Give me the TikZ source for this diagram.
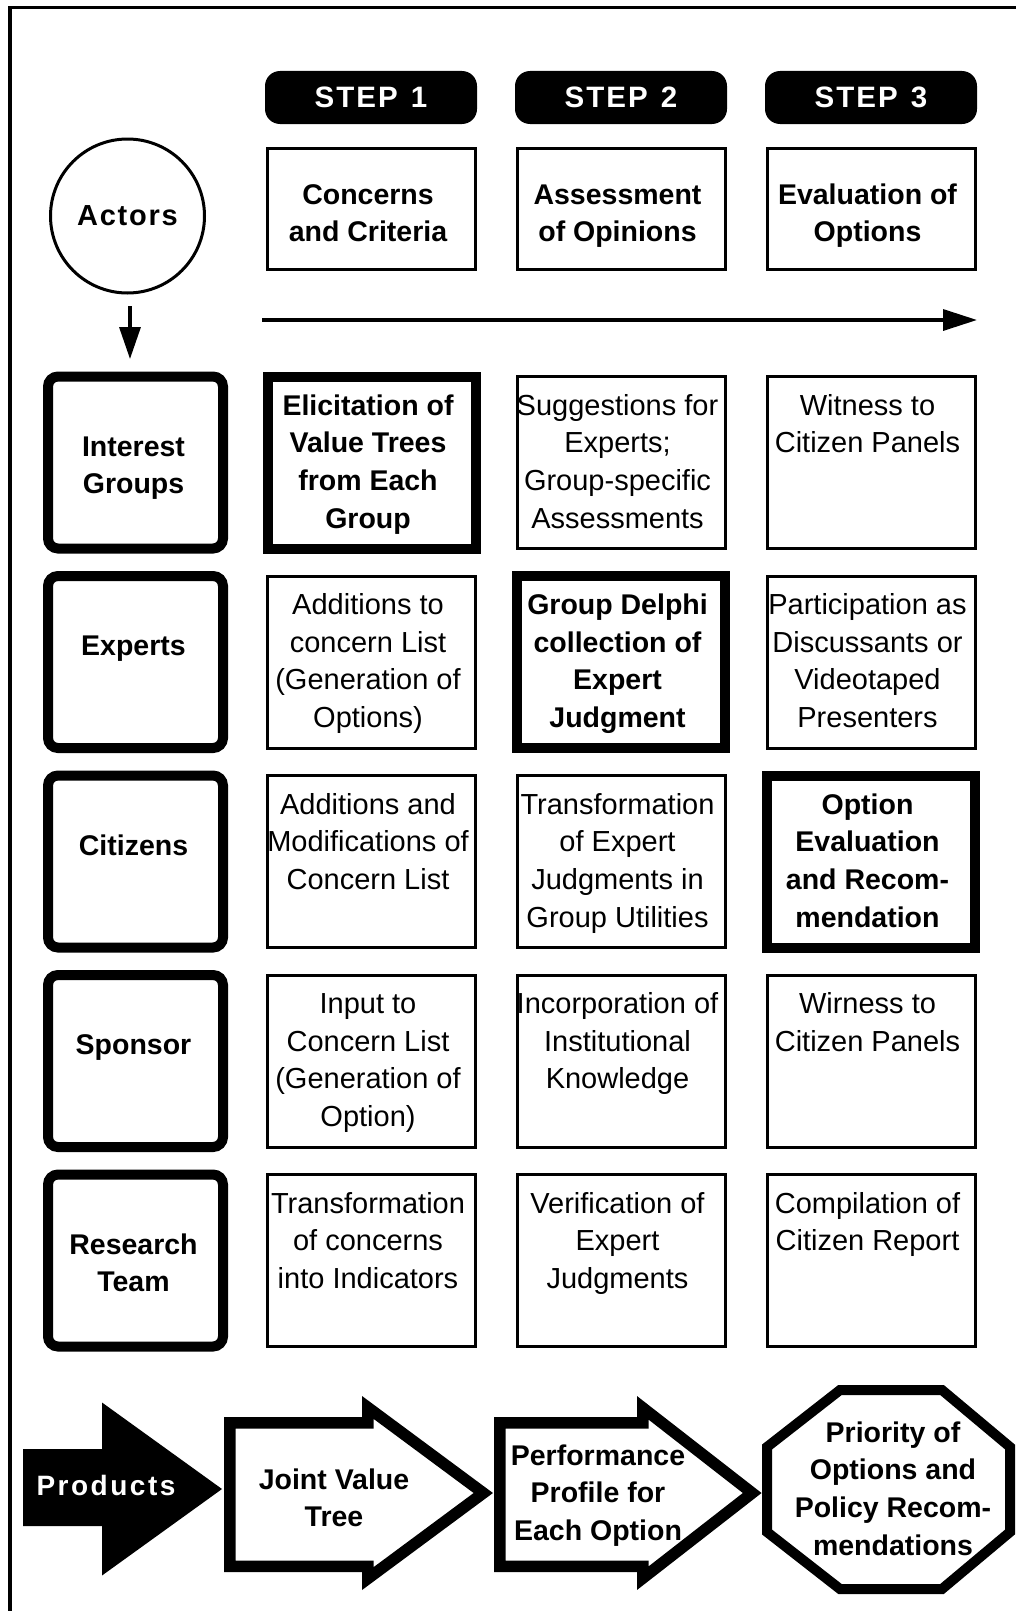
\documentclass[tikz,border=0pt]{standalone}
\usepackage{fontspec}
\setmainfont{Liberation Sans}
\usetikzlibrary{arrows.meta}
\newcommand\regfnt{\fontsize{29}{37.6}\selectfont}
\newcommand\bldfnt{\fontsize{28.5}{37.6}\selectfont\bfseries}
\begin{document}
\begin{tikzpicture}[x=1pt,y=-1pt,
  cellbox/.style={draw, line width=3pt, minimum width=208pt, minimum height=172pt, inner sep=0pt},
  keybox/.style={draw, line width=10pt, minimum width=208pt, minimum height=172pt, inner sep=0pt},
  headbox/.style={draw, line width=3pt, minimum width=208pt, minimum height=121pt, inner sep=0pt},
  stepbox/.style={fill=black, rounded corners=15pt, minimum width=212pt, minimum height=53pt, inner sep=0pt, text=white,
    font=\fontsize{29.5}{37}\selectfont\bfseries\addfontfeatures{LetterSpace=7}},
  actorbox/.style={draw, line width=10pt, rounded corners=10pt, minimum width=175pt, minimum height=172pt, inner sep=0pt},
  regtext/.style={font=\regfnt, align=center, inner sep=0pt, anchor=north},
  boldtext/.style={font=\bldfnt, align=center, inner sep=0pt, anchor=north},
  prodshape/.style={line width=11.5pt, line join=miter},
  arrowline/.style={line width=3.4pt},
]
\path[use as bounding box] (0,0) rectangle (1015,1611);
% frame
\draw[line width=3.3pt] (10,1620) -- (10,7.7) -- (1020,7.7);

% steps
\node[stepbox] (s1) at (371,97.5) {STEP\hspace{13pt}1};
\node[stepbox] (s2) at (621,97.5) {STEP\hspace{13pt}2};
\node[stepbox] (s3) at (871,97.5) {STEP\hspace{13pt}3};

% header boxes
\node[headbox] (h1) at (371.5,209) {};
\node[headbox] (h2) at (621,209) {};
\node[headbox] (h3) at (871,209) {};
\node[boldtext] (h1t) at (368,177.7) {\strut Concerns\\and Criteria};
\node[boldtext] (h2t) at (617.5,177.7) {\strut Assessment\\of Opinions};
\node[boldtext] (h3t) at (867.5,177.7) {\strut Evaluation of\\Options};

% actors
\node[draw, circle, line width=3pt, minimum size=154pt, inner sep=0pt,
  font=\fontsize{29}{37}\selectfont\bfseries\addfontfeatures{LetterSpace=6}] (actors) at (127.5,216) {Actors};
\coordinate (d1) at (130,306);
\coordinate (d2) at (130,359);
\draw[arrowline, -{Triangle[length=32pt,width=21pt]}] (d1) -- (d2);

% step arrow
\coordinate (p1) at (262,320);
\coordinate (p2) at (977,320);
\draw[arrowline, -{Triangle[length=34pt,width=21pt]}] (p1) -- (p2);

% actor boxes
\node[actorbox] (a1) at (135.5,462.5) {};
\node[actorbox] (a2) at (135.5,662) {};
\node[actorbox] (a3) at (135.5,861.5) {};
\node[actorbox] (a4) at (135.5,1061) {};
\node[actorbox] (a5) at (135.5,1260.5) {};
\node[boldtext] (a1t) at (133.5,429.7) {\strut Interest\\Groups};
\node[boldtext] (a2t) at (133.5,629.2) {\strut Experts};
\node[boldtext] (a3t) at (133.5,828.7) {\strut Citizens};
\node[boldtext] (a4t) at (133.5,1028.2) {\strut Sponsor};
\node[boldtext] (a5t) at (133.5,1227.7) {\strut Research\\Team};

% row 1
\node[keybox]  (c11) at (371.5,462.5) {};
\node[cellbox] (c12) at (621,462.5) {};
\node[cellbox] (c13) at (871,462.5) {};
\node[boldtext] (c11t) at (368,388.7) {\strut Elicitation of\\Value Trees\\from Each\\Group};
\node[regtext] (c12t) at (617.5,388.7) {\strut Suggestions for\\Experts;\\Group-specific\\Assessments};
\node[regtext] (c13t) at (867.5,388.7) {\strut Witness to\\Citizen Panels};

% row 2
\node[cellbox] (c21) at (371.5,662) {};
\node[keybox]  (c22) at (621,662) {};
\node[cellbox] (c23) at (871,662) {};
\node[regtext] (c21t) at (368,588.2) {\strut Additions to\\concern List\\(Generation of\\Options)};
\node[boldtext] (c22t) at (617.5,588.2) {\strut Group Delphi\\collection of\\Expert\\Judgment};
\node[regtext] (c23t) at (867.5,588.2) {\strut Participation as\\Discussants or\\Videotaped\\Presenters};

% row 3
\node[cellbox] (c31) at (371.5,861.5) {};
\node[cellbox] (c32) at (621,861.5) {};
\node[keybox]  (c33) at (871,861.5) {};
\node[regtext] (c31t) at (368,787.7) {\strut Additions and\\Modifications of\\Concern List};
\node[regtext] (c32t) at (617.5,787.7) {\strut Transformation\\of Expert\\Judgments in\\Group Utilities};
\node[boldtext] (c33t) at (867.5,787.7) {\strut Option\\Evaluation\\and Recom-\\mendation};

% row 4
\node[cellbox] (c41) at (371.5,1061) {};
\node[cellbox] (c42) at (621,1061) {};
\node[cellbox] (c43) at (871,1061) {};
\node[regtext] (c41t) at (368,987.2) {\strut Input to\\Concern List\\(Generation of\\Option)};
\node[regtext] (c42t) at (617.5,987.2) {\strut Incorporation of\\Institutional\\Knowledge};
\node[regtext] (c43t) at (867.5,987.2) {\strut Wirness to\\Citizen Panels};

% row 5
\node[cellbox] (c51) at (371.5,1260.5) {};
\node[cellbox] (c52) at (621,1260.5) {};
\node[cellbox] (c53) at (871,1260.5) {};
\node[regtext] (c51t) at (368,1186.7) {\strut Transformation\\of concerns\\into Indicators};
\node[regtext] (c52t) at (617.5,1186.7) {\strut Verification of\\Expert\\Judgments};
\node[regtext] (c53t) at (867.5,1186.7) {\strut Compilation of\\Citizen Report};

% products
\fill (23,1449) -- (102,1449) -- (102,1402.5) -- (222,1489) -- (102,1575.5) -- (102,1526) -- (23,1526) -- cycle;
\node[text=white, anchor=base, inner sep=0pt,
  font=\fontsize{28}{37}\selectfont\bfseries\addfontfeatures{LetterSpace=9}] (prod) at (106,1495) {Products};

\draw[prodshape] (229.75,1422.75) -- (367.75,1422.75) -- (367.75,1407.4) -- (483.3,1493)
  -- (367.75,1578.6) -- (367.75,1566.25) -- (229.75,1566.25) -- cycle;
\node[boldtext] (jvt) at (334,1462.7) {\strut Joint Value\\Tree};

\draw[prodshape] (499.75,1422.75) -- (642.75,1422.75) -- (642.75,1407.8) -- (752.2,1493)
  -- (642.75,1578.2) -- (642.75,1566.25) -- (499.75,1566.25) -- cycle;
\node[boldtext] (ppt) at (598,1438.7) {\strut Performance\\Profile for\\Each Option};

\draw[line width=10pt, line join=miter] (840,1390) -- (942,1390) -- (1010,1447) -- (1010,1532)
  -- (942,1589) -- (840,1589) -- (767,1532) -- (767,1447) -- cycle;
\node[boldtext] (pot) at (893,1415.7) {\strut Priority of\\Options and\\Policy Recom-\\mendations};
\end{tikzpicture}
\end{document}
